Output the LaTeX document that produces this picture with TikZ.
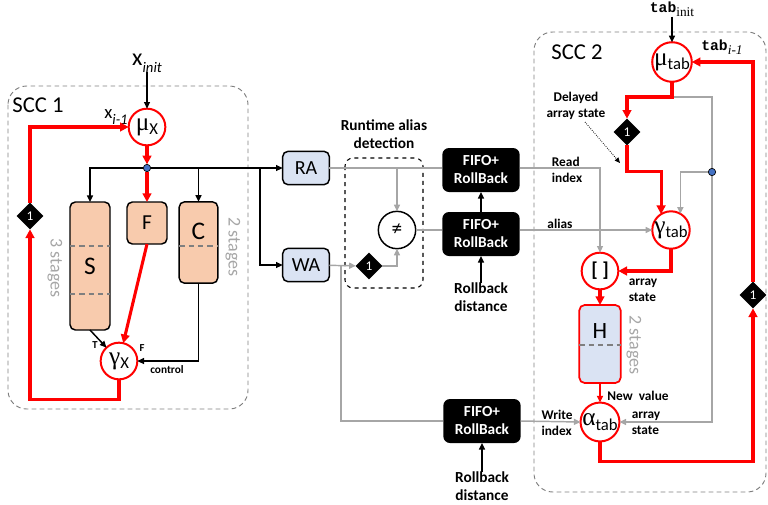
\documentclass[tikz,border=0pt]{standalone}
\usepackage{fontspec}
\setmainfont{Carlito}
\newfontfamily\aliasMono{Liberation Mono}
\newfontfamily\aliasSerif{Liberation Serif}
\usetikzlibrary{arrows.meta,shapes.geometric}
\definecolor{aliasRed}{HTML}{FF0000}
\definecolor{aliasPeach}{HTML}{F8CBAD}
\definecolor{aliasBlue}{HTML}{DAE3F3}
\definecolor{aliasDot}{HTML}{4472C4}
\definecolor{aliasGray}{HTML}{A6A6A6}
\definecolor{aliasFrame}{HTML}{7F7F7F}
\newcommand{\opSub}[3][11]{#2\raisebox{-0.3em}{\fontsize{#1}{#1}\selectfont #3}}
\newcommand{\opGreek}[2]{{\aliasSerif\fontsize{19}{19}\selectfont #1}\raisebox{-0.2em}{\fontsize{12.5}{12.5}\selectfont #2}}
\newcommand{\tabName}{{\aliasMono\bfseries tab}}
\tikzset{
  alias diagram/.style={
    x=0.75pt, y=-0.75pt, line width=1.1pt,
    >={Triangle[length=5pt,width=4.5pt]},
    every node/.style={inner sep=0pt, outer sep=0pt}
  },
  op node/.style={circle, draw=aliasRed, line width=1.5pt, fill=white,
    minimum size=27.5pt, font=\fontsize{16}{16}\selectfont},
  stage box/.style={draw=black, line width=1.1pt, fill=aliasPeach,
    rounded corners=4pt, font=\fontsize{19}{19}\selectfont},
  addr box/.style={draw=black, line width=1.1pt, fill=aliasBlue,
    rounded corners=4pt, minimum width=35pt, minimum height=25pt,
    font=\fontsize{15}{15}\selectfont},
  fifo box/.style={fill=black, rounded corners=5pt, minimum width=58pt,
    minimum height=33pt, text=white, align=center,
    font=\bfseries\fontsize{11.5}{13.5}\selectfont},
  delay node/.style={diamond, fill=black, aspect=1, minimum size=20pt,
    text=white, font=\fontsize{10}{10}\selectfont},
  dot node/.style={circle, fill=aliasDot, draw=black, line width=0.5pt,
    minimum size=5.5pt},
  red flow/.style={draw=aliasRed, line width=2.3pt,
    >={Triangle[length=6.5pt,width=6.5pt]}},
  red thin/.style={draw=aliasRed, line width=1.3pt},
  gray flow/.style={draw=aliasGray, line width=1.1pt},
  stage sep/.style={draw=aliasFrame, line width=1pt, dash pattern=on 4pt off 3pt},
  stage note/.style={text=aliasGray, rotate=-90, font=\fontsize{13.5}{14}\selectfont},
  tag/.style={font=\bfseries\fontsize{10}{12}\selectfont, align=left},
  title tag/.style={font=\bfseries\fontsize{11.5}{13.5}\selectfont, align=center},
  scc frame/.style={draw=aliasFrame, line width=0.7pt,
    dash pattern=on 3.5pt off 2.5pt, rounded corners=14pt},
  scc title/.style={font=\fontsize{17}{17}\selectfont}
}

\begin{document}
\begin{tikzpicture}[alias diagram]
  \useasboundingbox (0,0) rectangle (768,504);

  % frames
  \draw[scc frame] (8,86) rectangle (248,409);
  \draw[scc frame] (534,32) rectangle (766,492);
  \node[scc title] (scc1) at (38,105) {SCC 1};
  \node[scc title] (scc2) at (577,52) {SCC 2};

  % --- SCC 1 ---
  \node[font=\fontsize{18}{18}\selectfont] (xinit) at (147,63)
    {\opSub{x}{\itshape init}};
  \node[font=\fontsize{14}{14}\selectfont] (xprev) at (116,117)
    {\opSub[11]{x}{\itshape i-1}};
  \node[op node] (mux) at (147,127) {\opGreek{μ}{X}};
  \node[dot node] (dx) at (147,168) {};
  \coordinate (split) at (260,168);

  \node[stage box, minimum width=30pt, minimum height=96pt] (S) at (90,266) {S};
  \node[stage box, minimum width=30pt, minimum height=31.5pt,
    font=\fontsize{16}{16}\selectfont] (F) at (147,223) {F};
  \node[stage box, minimum width=29pt, minimum height=61pt] (C) at (198.5,242.5) {};
  \node[font=\fontsize{19}{19}\selectfont] (Ctext) at (198.5,231) {C};
  \draw[stage sep] (S.west |- 0,246) -- (S.east |- 0,246);
  \draw[stage sep] (S.west |- 0,294) -- (S.east |- 0,294);
  \draw[stage sep] (C.west |- 0,246) -- (C.east |- 0,246);
  \node[stage note] (Snote) at (55,268) {3 stages};
  \node[stage note] (Cnote) at (233,247) {2 stages};

  \node[op node] (gx) at (119,361) {\opGreek{γ}{X}};
  \node[font=\bfseries\fontsize{8}{8}\selectfont] (tT) at (95,345) {T};
  \node[font=\bfseries\fontsize{8}{8}\selectfont] (tF) at (142,348) {F};
  \node[font=\bfseries\fontsize{8.5}{8.5}\selectfont] (tctrl) at (167,370) {control};

  \node[delay node] (d1) at (30,216) {1};

  \draw[->] (xinit) -- (mux);
  \draw[red flow,->] (mux) -- (dx);
  \draw[->] (dx) -| (S.north);
  \draw[->] (dx) -| (C.north);
  \draw[red flow,->] (dx) -- (F);
  \draw[->] (S.south) -- (gx);
  \draw[red flow,->] (F.south) -- (gx);
  \draw[->] (C.south) |- (gx.east);
  \draw[red flow,->] (gx.south) -- ++(0,20) -| (d1.south);
  \draw[red flow,->] (d1.north) |- (mux.west);

  % --- runtime alias detection ---
  \node[addr box] (RA) at (306,168) {RA};
  \node[addr box] (WA) at (306,265) {WA};
  \coordinate (wsplit) at (341,265);
  \draw[dashed, line width=0.8pt, rounded corners=6pt] (345,158) rectangle (423,288);
  \node[title tag] (detect) at (384,134) {Runtime alias\\detection};
  \node[circle, draw=black, line width=1.1pt, fill=white, minimum size=28pt,
    font=\fontsize{16}{16}\selectfont] (neq) at (397,230) {≠};
  \node[delay node] (d2) at (369,266) {1};

  \node[fifo box] (fifoR) at (481,170) {FIFO+\\RollBack};
  \node[fifo box] (fifoA) at (481,234) {FIFO+\\RollBack};
  \node[fifo box] (fifoW) at (482,421) {FIFO+\\RollBack};
  \node[title tag] (rbA) at (481,297) {Rollback\\distance};
  \node[title tag] (rbW) at (482,486) {Rollback\\distance};

  \draw[->] (dx) -- (RA);
  \draw[->] (split) |- (WA);
  \draw[gray flow] (RA.east) -- (RA.east -| fifoR.west);
  \draw[gray flow,->] (RA.east -| neq) -- (neq.north);
  \draw[gray flow,->] (WA) -- (d2);
  \draw[gray flow,->] (d2.east) -| (neq.south);
  \draw[gray flow] (neq.east) -- (neq.east -| fifoA.west);
  \draw[gray flow] (wsplit) |- (fifoW.west);
  \draw[->] (fifoA) -- (fifoR);
  \draw[->] (rbA) -- (fifoA);
  \draw[->] (rbW) -- (fifoW);

  % --- SCC 2 ---
  \node[font=\fontsize{11}{11}\selectfont] (tabinit) at (672,9)
    {\tabName\raisebox{-0.3em}{\aliasSerif\fontsize{10}{10}\selectfont init}};
  \node[font=\fontsize{11}{11}\selectfont] (tabprev) at (722,47)
    {\tabName\raisebox{-0.3em}{\aliasSerif\itshape\fontsize{10}{10}\selectfont i-1}};
  \node[op node] (mutab) at (672,62) {\opGreek{μ}{tab}};
  \coordinate (mt) at (672,97);
  \node[delay node] (d3) at (627,132) {1};
  \node[dot node] (dt) at (712,172) {};
  \node[op node] (gtab) at (671,230) {\opGreek{γ}{tab}};
  \node[op node, font=\bfseries\fontsize{15}{15}\selectfont] (idx) at (600,271) {[ ]};
  \node[draw=aliasRed, line width=1.3pt, fill=aliasBlue, rounded corners=4pt,
    minimum width=31pt, minimum height=58.5pt] (H) at (600,344) {};
  \node[font=\fontsize{17.5}{17.5}\selectfont] (Htext) at (600,331) {H};
  \draw[stage sep] (H.west |- 0,345) -- (H.east |- 0,345);
  \node[stage note] (Hnote) at (634,345) {2 stages};
  \node[op node] (atab) at (600,422) {\opGreek{α}{tab}};
  \node[delay node] (d4) at (753,295) {1};

  \node[tag] (tread) at (567,170) {Read\\index};
  \node[tag] (talias) at (560,224) {alias};
  \node[tag, align=center] (tdelay) at (576,106) {Delayed\\array state};
  \coordinate (ptail) at (585,122);
  \coordinate (ptip) at (620,163);
  \node[tag] (tstate) at (643,290) {array\\state};
  \node[tag] (tnew) at (638,396) {New\ \ value};
  \node[tag] (twrite) at (557,423) {Write\\index};
  \node[tag] (tstate2) at (646,423) {array\\state};

  \draw[->] (tabinit) -- (mutab);
  \draw[gray flow,->] (mt) -| (dt) |- (atab.east);
  \draw[gray flow,->] (dt) -| (gtab.60);
  \draw[gray flow,->] (RA.east -| fifoR.east) -| (idx.north);
  \draw[gray flow,->] (fifoA.east |- gtab) -- (gtab.west);
  \draw[gray flow,->] (fifoW.east) -- (atab.west);
  \draw[red flow,->] (mutab.south) -- (mt) -| (d3.north);
  \draw[red flow,->] (d3.south) -- ++(0,26) -| (gtab.122);
  \draw[red flow,->] (gtab.south) |- (idx.east);
  \draw[red flow,->] (idx.south) -- (H.north);
  \draw[red thin,->] (H.south) -- (atab.north);
  \draw[red flow,->] (atab.south) -- ++(0,20) -| (d4.south);
  \draw[red flow,->] (d4.north) |- (mutab.east);
  \draw[densely dotted, line width=0.6pt, -{Triangle[length=4pt,width=3.5pt]}]
    (ptail) -- (ptip);
\end{tikzpicture}
\end{document}
